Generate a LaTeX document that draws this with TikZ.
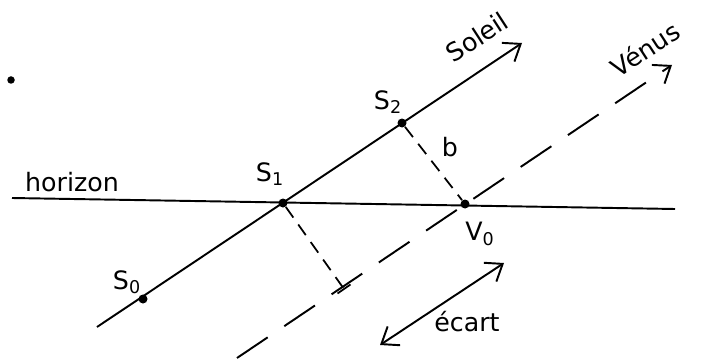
\documentclass[tikz,border=0pt]{standalone}
\usepackage{fontspec}
\setmainfont{DejaVu Sans}
\usepackage{tikz}
\usetikzlibrary{arrows.meta, positioning}
\tikzset{
  pt/.style={circle, fill, inner sep=0pt, minimum size=1.8mm},
  lbl/.style={font=\Large, inner sep=1pt},
  ray/.style={line width=1.1pt, -{Straight Barb[length=3mm, width=4.5mm, line width=1.1pt]}},
  vray/.style={ray, dash pattern=on 0.74cm off 0.4cm},
  perp/.style={line width=1pt, dash pattern=on 0.26cm off 0.17cm},
}
\begin{document}
\begin{tikzpicture}
		\useasboundingbox (0,0) rectangle (14.06,7.24);
		% Points, lines and labels:
		\coordinate (H0) at (0.24, 3.28);
		\coordinate (H1) at (13.5, 3.06);
		\coordinate (A0) at (1.94, 0.70);
		\coordinate (A1) at (10.44, 6.38);
		\coordinate (B0) at (4.74, 0.08);
		\coordinate (B1) at (13.44, 5.94);
		\coordinate (F) at (6.88, 1.46);
		\coordinate (F0) at (6.75, 1.37);
		\coordinate (F1) at (7.01, 1.55);
		\coordinate (E0) at (7.60, 0.34);
		\coordinate (E1) at (10.08, 1.98);
		\node[pt](S0) at (2.86, 1.26){};
		\node[pt](S1) at (5.66, 3.18){};
		\node[pt](S2) at (8.04, 4.78){};
		\node[pt](V0) at (9.30, 3.16){};
		\node[pt, minimum size=1.5mm](D) at (0.22, 5.64){};
		\draw[line width=1.1pt] (H0) -- (H1);
		\draw[ray] (A0) -- (A1);
		\draw[vray] (B0) -- (B1);
		\draw[perp] (S2) -- (V0);
		\draw[perp] (S1) -- (F);
		\draw[line width=1pt] (F0) -- (F1);
		\draw[line width=1.1pt, {Straight Barb[length=3mm, width=4.5mm, line width=1.1pt]}-{Straight Barb[length=3mm, width=4.5mm, line width=1.1pt]}] (E0) -- (E1);
		\node[lbl](Lh) at (1.44, 3.60){horizon};
		\node[lbl](L0) at (2.54, 1.60){S\textsubscript{0}};
		\node[lbl](L1) at (5.40, 3.76){S\textsubscript{1}};
		\node[lbl](L2) at (7.76, 5.20){S\textsubscript{2}};
		\node[lbl](Lb) at (9.00, 4.30){b};
		\node[lbl](Lv) at (9.60, 2.56){V\textsubscript{0}};
		\node[lbl](Le) at (9.34, 0.80){écart};
		\node[lbl, rotate=33](Ls) at (9.54, 6.50){Soleil};
		\node[lbl, rotate=33](Lw) at (12.90, 6.26){Vénus};
	\end{tikzpicture}
\end{document}
